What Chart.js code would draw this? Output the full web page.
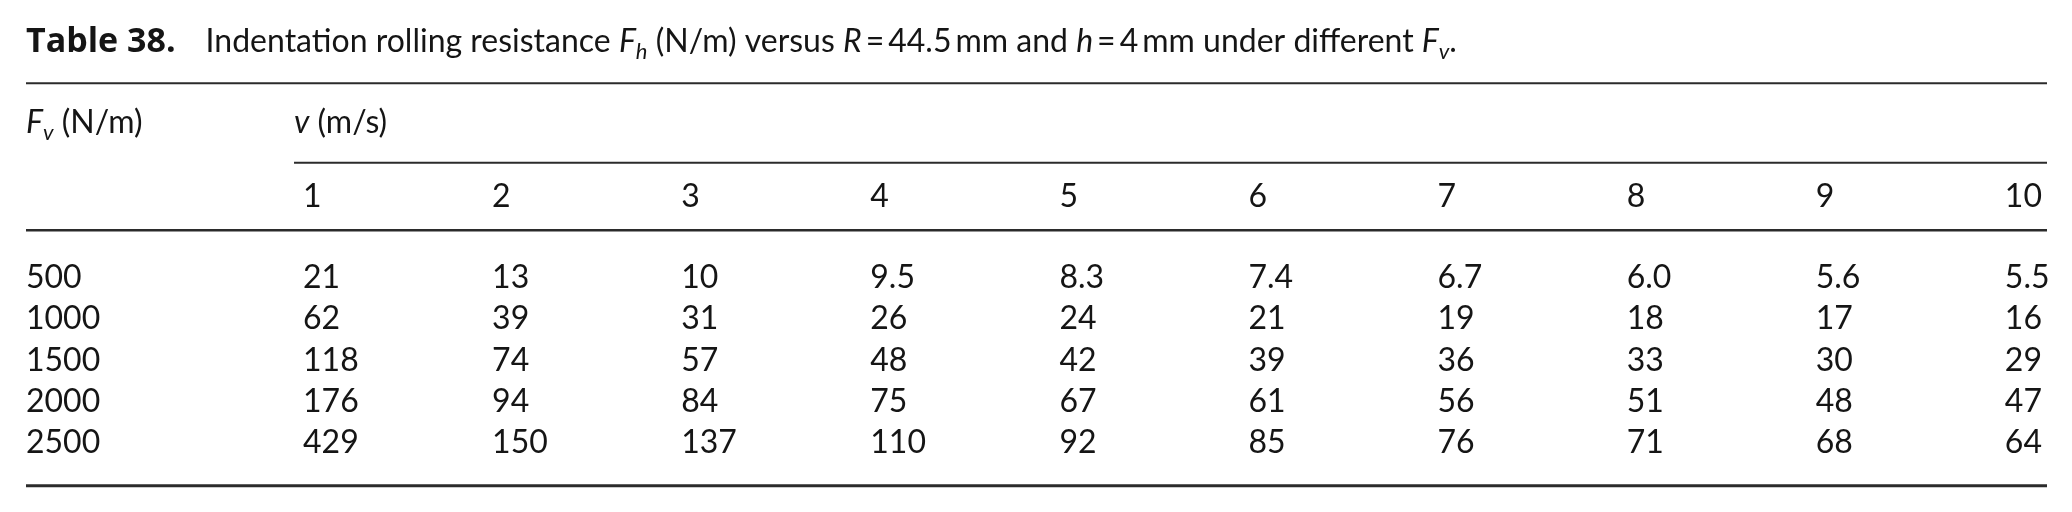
<!DOCTYPE html>
<html lang="en">
<head>
    <meta charset="UTF-8">
    <title>Table 38</title>
    <script src="https://cdn.jsdelivr.net/npm/chart.js"></script>
    <style>
        html, body { margin: 0; padding: 0; background: #fff; }
        #wrap { width: 2072px; height: 512px; }
    </style>
</head>
<body>
    <div id="wrap"><canvas id="tableChart" width="2072" height="512"></canvas></div>

    <script>
        // columns: v (m/s)
        const speeds = [1, 2, 3, 4, 5, 6, 7, 8, 9, 10];
        // rows: Fv (N/m)
        const loads = [500, 1000, 1500, 2000, 2500];
        // Fh (N/m) for each Fv row
        const fh500  = [21, 13, 10, 9.5, 8.3, 7.4, 6.7, 6.0, 5.6, 5.5];
        const fh1000 = [62, 39, 31, 26, 24, 21, 19, 18, 17, 16];
        const fh1500 = [118, 74, 57, 48, 42, 39, 36, 33, 30, 29];
        const fh2000 = [176, 94, 84, 75, 67, 61, 56, 51, 48, 47];
        const fh2500 = [429, 150, 137, 110, 92, 85, 76, 71, 68, 64];
        const fhRows = [fh500, fh1000, fh1500, fh2000, fh2500];

        // vertical layout, in y-scale units (data rows sit at 1..5)
        const rowY = { title: -4.71, topRule: -3.96, head1: -2.75, vRule: -2.03, head2: -0.96, midRule: -0.4, bottomRule: 5.79 };

        const FAM = "Lato, 'Open Sans', sans-serif";
        const SIZE = 32;
        const INK = "#151515";
        const RULE = "#2b2b2b";

        function fmt(v) { return v < 10 ? v.toFixed(1) : String(v); }

        function font(size, style, fam) { return (style || "") + " " + size + "px " + (fam || FAM); }

        // segments: [text, style, subscript?]
        function drawRich(ctx, segs, x, base, size) {
            segs.forEach(function (s) {
                const sub = s[2];
                ctx.font = font(sub ? Math.round(size * 0.7) : size, s[1]);
                ctx.fillText(s[0], x, base + (sub ? size * 0.2 : 0));
                x += ctx.measureText(s[0]).width;
            });
            return x;
        }

        function hline(ctx, x0, x1, yy, w) {
            ctx.save();
            ctx.strokeStyle = RULE;
            ctx.lineWidth = w;
            ctx.beginPath();
            ctx.moveTo(x0, yy);
            ctx.lineTo(x1, yy);
            ctx.stroke();
            ctx.restore();
        }

        const tablePlugin = {
            id: "tableText",
            afterDatasetsDraw(chart) {
                const ctx = chart.ctx;
                const x = chart.scales.x, y = chart.scales.y;
                const left = chart.chartArea.left, right = chart.chartArea.right;
                const col1 = x.getPixelForValue(speeds[0]) - 9;
                const titleBase = y.getPixelForValue(rowY.title);

                ctx.save();
                ctx.fillStyle = INK;
                ctx.textBaseline = "alphabetic";
                ctx.textAlign = "left";

                // caption (the bold label is wide, like the original's)
                ctx.font = font(34, "bold", "'Open Sans', Lato, sans-serif");
                ctx.fillText("Table 38.", left, titleBase);
                const tx = left + ctx.measureText("Table 38.").width + 30;
                drawRich(ctx, [
                    ["Indentation rolling resistance ", ""], ["F", "italic"], ["h", "italic", true],
                    [" (N/m) versus ", ""], ["R", "italic"], ["\u2009=\u200944.5\u2009mm and ", ""],
                    ["h", "italic"], ["\u2009=\u20094\u2009mm under different ", ""],
                    ["F", "italic"], ["v", "italic", true], [".", ""]
                ], tx, titleBase, 32);

                // rules
                hline(ctx, left, right, y.getPixelForValue(rowY.topRule), 2);
                hline(ctx, col1, right, y.getPixelForValue(rowY.vRule), 2);
                hline(ctx, left, right, y.getPixelForValue(rowY.midRule), 2.5);
                hline(ctx, left, right, y.getPixelForValue(rowY.bottomRule), 3);

                // header rows
                drawRich(ctx, [["F", "italic"], ["v", "italic", true], [" (N/m)", ""]], left, y.getPixelForValue(rowY.head1), SIZE);
                drawRich(ctx, [["v", "italic"], [" (m/s)", ""]], col1, y.getPixelForValue(rowY.head1), SIZE);
                ctx.font = font(SIZE);
                speeds.forEach(function (v) {
                    ctx.fillText(String(v), x.getPixelForValue(v), y.getPixelForValue(rowY.head2));
                });

                // body
                chart.data.datasets.forEach(function (ds, i) {
                    const meta = chart.getDatasetMeta(i);
                    ctx.font = font(SIZE);
                    ctx.fillText(String(loads[i]), left, meta.data[0].y);
                    meta.data.forEach(function (pt, j) {
                        ctx.fillText(fmt(ds.data[j].fh), pt.x, pt.y);
                    });
                });
                ctx.restore();
            }
        };

        new Chart(document.getElementById("tableChart"), {
            type: "scatter",
            data: {
                datasets: fhRows.map(function (vals, i) {
                    return {
                        label: loads[i] + " N/m",
                        data: speeds.map(function (v, j) { return { x: v, y: i + 1, fh: vals[j] }; }),
                        pointRadius: 0,
                        showLine: false
                    };
                })
            },
            options: {
                responsive: false,
                animation: false,
                devicePixelRatio: 1,
                layout: { padding: { left: 26, right: 25, top: 0, bottom: 0 } },
                scales: {
                    x: { type: "linear", display: false, min: -0.465, max: 10.223 },
                    y: { type: "linear", display: false, reverse: true, min: -5.973, max: 6.424 }
                },
                plugins: { legend: { display: false }, tooltip: { enabled: false }, title: { display: false } }
            },
            plugins: [tablePlugin]
        });
    </script>
</body>
</html>
